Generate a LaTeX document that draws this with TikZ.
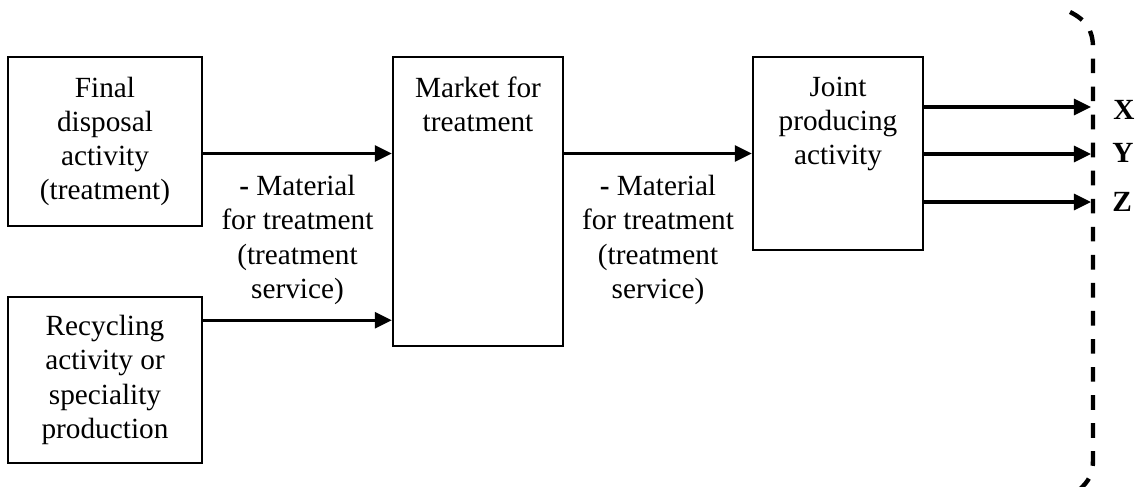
\documentclass[tikz,border=0pt]{standalone}
\usepackage{fontspec}
\setmainfont{Liberation Serif}
\usetikzlibrary{arrows.meta}

\begin{document}
\begin{tikzpicture}[x=0.41pt, y=-0.41pt,
		box/.style={draw, line width=0.9pt, align=center, font=\fontsize{12}{14}\selectfont},
		boxtext/.style={anchor=north, yshift=-5pt, align=center, font=\fontsize{12}{14}\selectfont},
		flow/.style={line width=1.4pt, -{Triangle[length=7pt, width=6.5pt]}},
		flowtext/.style={align=center, font=\fontsize{12}{14}\selectfont},
		outlabel/.style={font=\bfseries\fontsize{12}{14}\selectfont},
		bracket/.style={line width=1.8pt, dash pattern=on 6pt off 5.5pt}]
			\useasboundingbox (0,0) rectangle (1139,486);

			\draw (105,141.5) node (disposal) [box, minimum width=79.5pt, minimum height=69.3pt] {Final\\disposal\\activity\\(treatment)};
			\draw (105,380) node (recycling) [box, minimum width=79.5pt, minimum height=68.1pt] {Recycling\\activity or\\speciality\\production};
			\draw (478,201.5) node (market) [box, minimum width=69.7pt, minimum height=118.5pt, label={[boxtext]north:Market for\\treatment}] {};
			\draw (838,153.5) node (joint) [box, minimum width=69.7pt, minimum height=79.1pt, label={[boxtext]north:Joint\\producing\\activity}] {};



			\draw[flow] (disposal.east |- joint.west) -- (market.west |- joint.west) node[midway, below=5pt, flowtext] {\textbf{-} Material\\for treatment\\(treatment\\service)};
			\coordinate (recout) at ([yshift=-10pt]recycling.north east);
			\draw[flow] (recout) -- (recout -| market.west);
			\draw[flow] (market.east |- joint.west) -- (joint.west) node[midway, below=5pt, flowtext] {\textbf{-} Material\\for treatment\\(treatment\\service)};


			\coordinate (outX) at (1091,107);
			\coordinate (outY) at (1091,154);
			\coordinate (outZ) at (1091,202);
			\draw[flow] (joint.east |- outX) -- (outX);
			\draw[flow] (joint.east |- outY) -- (outY);
			\draw[flow] (joint.east |- outZ) -- (outZ);
			\draw (1124,110) node (labX) [outlabel] {X};
			\draw (1123,153) node (labY) [outlabel] {Y};
			\draw (1122,202) node (labZ) [outlabel] {Z};

			\draw[bracket] (1070,12) .. controls (1086,20) and (1093,30) .. (1093,48) -- (1093,460) .. controls (1093,474) and (1089,481) .. (1079,490);

		\end{tikzpicture}
\end{document}
